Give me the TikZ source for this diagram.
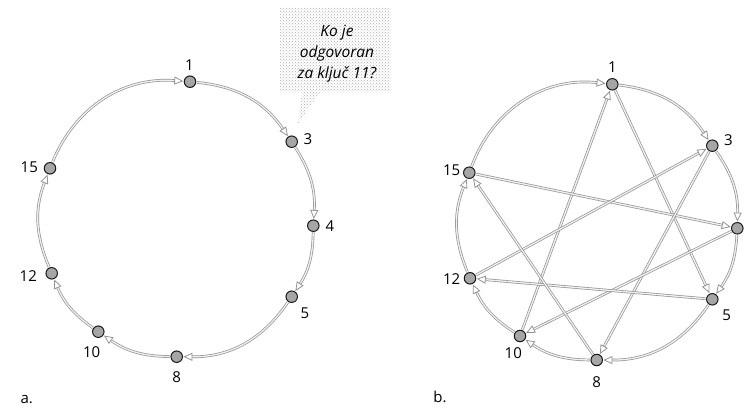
\documentclass[tikz,border=0pt]{standalone}
\usepackage{fontspec}
\setmainfont{Open Sans}
\setsansfont{Open Sans}
\usetikzlibrary{arrows.meta,patterns}
\begin{document}
\begin{tikzpicture}[x=1pt,y=1pt,
  peer/.style={circle, draw=black!90, fill=gray!70, line width=1pt, minimum size=11.5pt, inner sep=0pt},
  lab/.style={font=\fontsize{15}{15}\selectfont, inner sep=0pt},
  conn/.style={draw=gray!85, double=gray!12, line width=0.7pt, double distance=1.3pt,
     -{Triangle[open, length=9pt, width=8pt, line width=0.8pt]}, shorten >=0.5pt, shorten <=0.5pt}]
\useasboundingbox (0,0) rectangle (747,-412);
% callout
\fill[pattern=crosshatch dots, pattern color=gray!65]
  (280,-8) -- (391,-8) -- (391,-92) -- (320,-92) -- (298,-124) -- (302,-92) -- (280,-92) -- cycle;
\node[font=\fontsize{15.5}{21}\selectfont\itshape, align=center, inner sep=0pt] (q) at (337,-54) {Ko je\\odgovoran\\za ključ 11?};
% ---------- a ----------
\node[peer] (a1) at (190,-81.7) {};
\node[peer] (a3) at (291.7,-141.7) {};
\node[peer] (a4) at (313.3,-225.7) {};
\node[peer] (a5) at (291.7,-296.7) {};
\node[peer] (a8) at (176.7,-356.7) {};
\node[peer] (a10) at (98.3,-331.7) {};
\node[peer] (a12) at (51.7,-273.3) {};
\node[peer] (a15) at (50,-168.3) {};
\node[lab] (la1) at (189.3,-65) {1};
\node[lab] (la3) at (308,-139) {3};
\node[lab] (la4) at (330,-226) {4};
\node[lab] (la5) at (305,-313) {5};
\node[lab] (la8) at (176.7,-376.7) {8};
\node[lab] (la10) at (91.7,-351.7) {10};
\node[lab] (la12) at (28.3,-276) {12};
\node[lab] (la15) at (29.3,-167.7) {15};
\node[lab] (ta) at (26.7,-400) {a.};
\draw[conn] (a1) to[bend left=25] (a3);
\draw[conn] (a3) to[bend left=18] (a4);
\draw[conn] (a4) to[bend left=16] (a5);
\draw[conn] (a5) to[bend left=28] (a8);
\draw[conn] (a8) to[bend left=17] (a10);
\draw[conn] (a10) to[bend left=16] (a12);
\draw[conn] (a12) to[bend left=22] (a15);
\draw[conn] (a15) to[bend left=36] (a1);
% ---------- b ----------
\node[peer] (b1) at (612.3,-84.3) {};
\node[peer] (b3) at (712.3,-145.7) {};
\node[peer] (b4) at (737.3,-228.3) {};
\node[peer] (b5) at (712.3,-299.3) {};
\node[peer] (b8) at (596.7,-360) {};
\node[peer] (b10) at (520,-336) {};
\node[peer] (b12) at (470,-278.3) {};
\node[peer] (b15) at (469.3,-172.7) {};
\node[lab] (lb1) at (612.3,-67.3) {1};
\node[lab] (lb3) at (728.3,-140) {3};
\node[lab] (lb5) at (726.7,-315) {5};
\node[lab] (lb8) at (596.7,-381.7) {8};
\node[lab] (lb10) at (513.3,-353.3) {10};
\node[lab] (lb12) at (451.7,-279.3) {12};
\node[lab] (lb15) at (451.7,-170) {15};
\node[lab] (tb) at (440,-396.7) {b.};
\draw[conn] (b1) to[bend left=25] (b3);
\draw[conn] (b3) to[bend left=18] (b4);
\draw[conn] (b4) to[bend left=16] (b5);
\draw[conn] (b5) to[bend left=28] (b8);
\draw[conn] (b8) to[bend left=17] (b10);
\draw[conn] (b10) to[bend left=16] (b12);
\draw[conn] (b12) to[bend left=22] (b15);
\draw[conn] (b15) to[bend left=38] (b1);
\draw[conn] (b1) -- (b5);
\draw[conn] (b10) -- (b1);
\draw[conn] (b15) -- (b4);
\draw[conn] (b12) -- (b3);
\draw[conn] (b3) -- (b8);
\draw[conn] (b4) -- (b10);
\draw[conn] (b5) -- (b12);
\draw[conn] (b8) -- (b15);
\end{tikzpicture}
\end{document}
